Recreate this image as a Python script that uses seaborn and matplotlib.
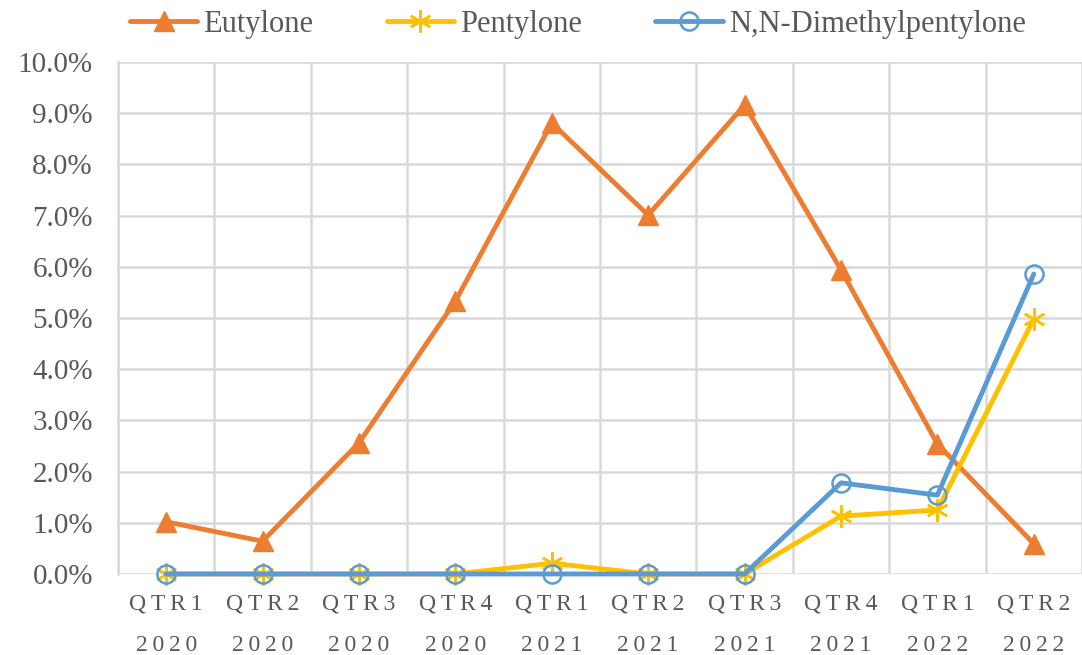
import matplotlib
matplotlib.use("Agg")
import matplotlib.pyplot as plt
from matplotlib.ticker import FuncFormatter, FixedLocator
import seaborn as sns
import pandas as pd

# data (percent)
quarters = ["QTR1", "QTR2", "QTR3", "QTR4", "QTR1", "QTR2", "QTR3", "QTR4", "QTR1", "QTR2"]
years = ["2020", "2020", "2020", "2020", "2021", "2021", "2021", "2021", "2022", "2022"]
eutylone = [1.02, 0.64, 2.56, 5.33, 8.81, 7.01, 9.16, 5.94, 2.54, 0.59]
pentylone = [0.0, 0.0, 0.0, 0.0, 0.21, 0.0, 0.0, 1.13, 1.25, 4.98]
nn_dmp = [0.0, 0.0, 0.0, 0.0, 0.0, 0.0, 0.0, 1.78, 1.54, 5.86]

sp = "\u2009"
labels = [sp.join(q) + "\n\n" + sp.join(y) for q, y in zip(quarters, years)]

df = pd.DataFrame({"period": labels, "Eutylone": eutylone,
                   "Pentylone": pentylone, "N,N-Dimethylpentylone": nn_dmp})

sns.set_theme(style="white")
plt.rcParams["font.family"] = ["Liberation Serif", "DejaVu Serif"]
grey_txt = "#595959"
grid_c = "#D9D9D9"

fig = plt.figure(figsize=(10.82, 6.55), dpi=100)
ax = fig.add_axes([0.109, 0.1237, 0.891, 0.7816])

series = [
    ("Eutylone", "#ED7D31", dict(marker="^", markersize=14, markeredgewidth=1)),
    ("Pentylone", "#FFC000", dict(marker=(6, 2, 0), markersize=16, markeredgewidth=1.8)),
    ("N,N-Dimethylpentylone", "#5B9BD5", dict(marker="o", markersize=13,
                                              markeredgewidth=1.8, markerfacecolor="none")),
]
for name, c, mk in series:
    sns.lineplot(data=df, x="period", y=name, color=c, linewidth=3.5,
                 markeredgecolor=c, label=name, ax=ax, clip_on=False, zorder=3, **mk)

ax.set_xlim(-0.5, len(labels) - 0.5)
ax.set_ylim(0, 10)
ax.set_yticks(range(0, 11))
ax.yaxis.set_major_formatter(FuncFormatter(lambda v, p: f"{v:.1f}%"))
ax.set_xlabel("")
ax.set_ylabel("")

ax.xaxis.set_minor_locator(FixedLocator([i - 0.5 for i in range(len(labels) + 1)]))
ax.grid(True, axis="y", color=grid_c, linewidth=1.8)
ax.grid(True, axis="x", which="minor", color=grid_c, linewidth=1.8)
ax.set_axisbelow(True)
ax.tick_params(axis="x", which="major", length=0, pad=14, labelsize=17, labelcolor=grey_txt)
ax.tick_params(axis="x", which="minor", length=82, width=1.8, color=grid_c, direction="out")
ax.tick_params(axis="y", length=0, pad=18, labelsize=21, labelcolor=grey_txt)
for t in ax.get_xticklabels():
    t.set_linespacing(1.0)

for s in ["top", "right", "bottom"]:
    ax.spines[s].set_visible(False)
ax.spines["left"].set_color(grid_c)
ax.spines["left"].set_linewidth(1.8)

leg = ax.legend(loc="lower center", bbox_to_anchor=(0.477, 1.0), ncol=3, frameon=False,
                fontsize=22, handlelength=2.2, columnspacing=2.4, handletextpad=0.2,
                borderaxespad=0.35)
for t in leg.get_texts():
    t.set_color(grey_txt)

fig.savefig("out.png", dpi=100)
